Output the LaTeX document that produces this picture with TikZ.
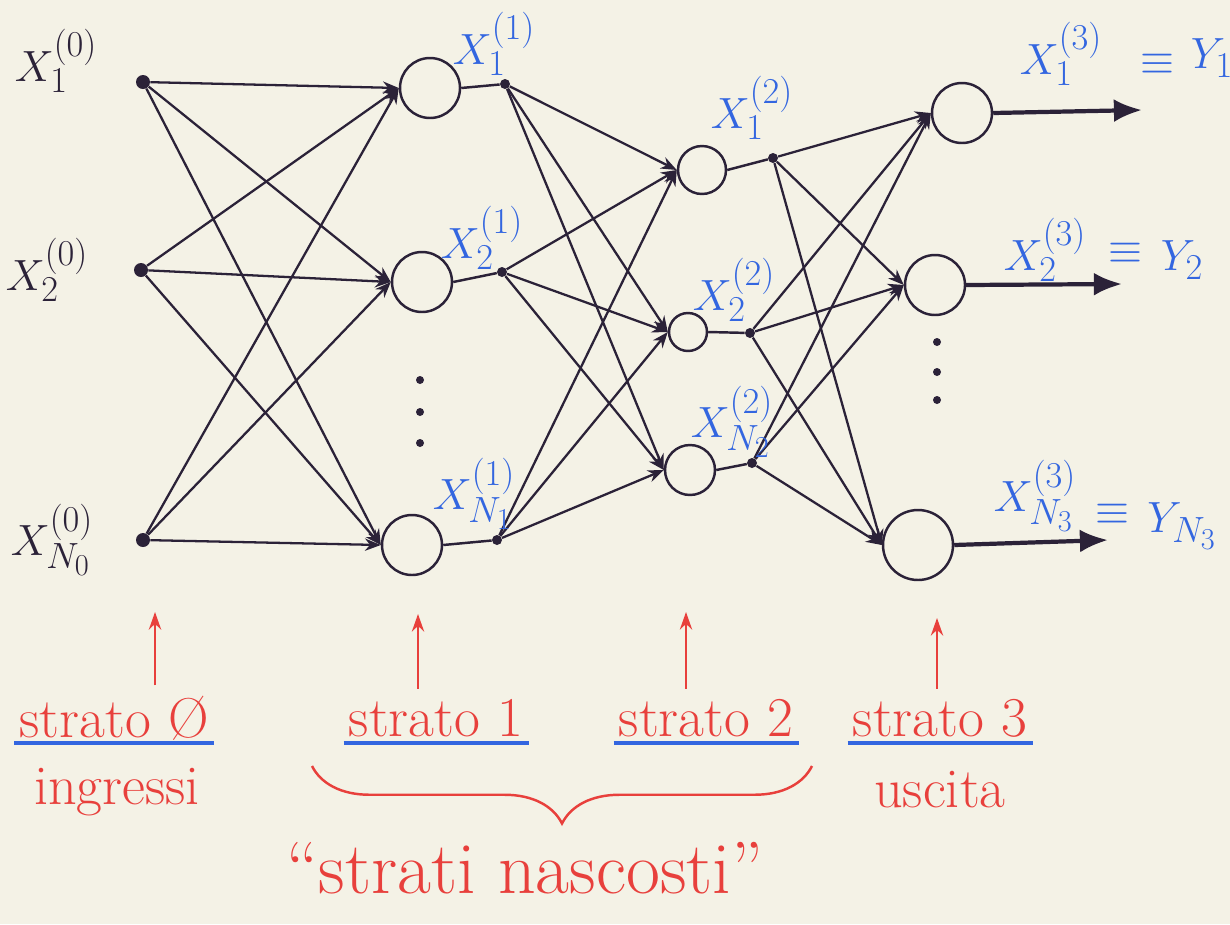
\documentclass[tikz,border=0pt]{standalone}
\usetikzlibrary{arrows.meta,decorations.pathreplacing}
\definecolor{paper}{HTML}{F4F2E6}
\definecolor{ink}{HTML}{2B2238}
\definecolor{pen}{HTML}{3366E0}
\definecolor{redpen}{HTML}{E8403C}
\tikzset{
  neuron/.style={circle,draw=ink,line width=1.4pt,inner sep=0pt},
  bigdot/.style={circle,fill=ink,inner sep=0pt,minimum size=0.28cm},
  smalldot/.style={circle,fill=ink,inner sep=0pt,minimum size=0.2cm},
  conn/.style={draw=ink,line width=1.3pt,-{Stealth[length=9pt,width=7pt]}},
  wire/.style={draw=ink,line width=1.4pt},
  outarrow/.style={draw=ink,line width=2.4pt,-{Latex[length=16pt,width=13pt]}},
  lbl/.style={text=pen,font=\Huge,inner sep=0pt},
  redtxt/.style={text=redpen,font=\fontsize{32}{36}\selectfont,inner sep=0pt},
  redarrow/.style={draw=redpen,line width=1.2pt,-{Stealth[length=10pt,width=7pt]}},
  underline/.style={draw=pen,line width=2.2pt},
  ellip/.style={circle,fill=ink,inner sep=0pt,minimum size=0.16cm}
}
\begin{document}
\begin{tikzpicture}[x=0.02cm,y=-0.02cm]
\useasboundingbox[fill=paper] (0,0) rectangle (1230,924);

% layer 0 inputs
\node[bigdot] (i1) at (143,82) {};
\node[bigdot] (i2) at (141,270) {};
\node[bigdot] (i3) at (143,540) {};

% layer 1 neurons
\node[neuron,minimum size=1.2cm] (a1) at (430,88) {};
\node[neuron,minimum size=1.2cm] (a2) at (422,282) {};
\node[neuron,minimum size=1.2cm] (a3) at (412,545) {};
\node[smalldot] (o1) at (505,84) {};
\node[smalldot] (o2) at (502,272) {};
\node[smalldot] (o3) at (497,540) {};

% layer 2 neurons
\node[neuron,minimum size=0.96cm] (b1) at (702,170) {};
\node[neuron,minimum size=0.76cm] (b2) at (688,332) {};
\node[neuron,minimum size=1.0cm] (b3) at (690,470) {};
\node[smalldot] (p1) at (773,158) {};
\node[smalldot] (p2) at (750,333) {};
\node[smalldot] (p3) at (752,463) {};

% layer 3 neurons
\node[neuron,minimum size=1.2cm] (c1) at (962,113) {};
\node[neuron,minimum size=1.2cm] (c2) at (935,285) {};
\node[neuron,minimum size=1.4cm] (c3) at (918,545) {};
\coordinate (y1) at (1142,110);
\coordinate (y2) at (1122,284);
\coordinate (y3) at (1108,540);

% ellipsis dots
\node[ellip] (d1) at (420,380) {};
\node[ellip] (d2) at (420,412) {};
\node[ellip] (d3) at (420,443) {};
\node[ellip] (e1) at (937,342) {};
\node[ellip] (e2) at (937,372) {};
\node[ellip] (e3) at (937,400) {};

% connections
\foreach \s in {i1,i2,i3}{\foreach \t in {a1,a2,a3}{\draw[conn] (\s) -- (\t.west);}}
\foreach \s in {o1,o2,o3}{\foreach \t in {b1,b2,b3}{\draw[conn] (\s) -- (\t.west);}}
\foreach \s in {p1,p2,p3}{\foreach \t in {c1,c2,c3}{\draw[conn] (\s) -- (\t.west);}}
\draw[wire] (a1.east) -- (o1);
\draw[wire] (a2.east) -- (o2);
\draw[wire] (a3.east) -- (o3);
\draw[wire] (b1.east) -- (p1);
\draw[wire] (b2.east) -- (p2);
\draw[wire] (b3.east) -- (p3);
\draw[outarrow] (c1.east) -- (y1);
\draw[outarrow] (c2.east) -- (y2);
\draw[outarrow] (c3.east) -- (y3);

% labels
\node[lbl,text=ink] (l01) at (56,61) {$X_1^{(0)}$};
\node[lbl,text=ink] (l02) at (47,270) {$X_2^{(0)}$};
\node[lbl,text=ink] (l03) at (52,540) {$X_{N_0}^{(0)}$};
\node[lbl] (l11) at (494,44) {$X_1^{(1)}$};
\node[lbl] (l12) at (482,238) {$X_2^{(1)}$};
\node[lbl] (l13) at (474,494) {$X_{N_1}^{(1)}$};
\node[lbl] (l21) at (752,108) {$X_1^{(2)}$};
\node[lbl] (l22) at (734,290) {$X_2^{(2)}$};
\node[lbl] (l23) at (732,422) {$X_{N_2}^{(2)}$};
\node[lbl] (l31) at (1061,54) {$X_1^{(3)}$};
\node[lbl] (q1) at (1157,64) {$\equiv$};
\node[lbl] (r1) at (1212,58) {$Y_1$};
\node[lbl] (l32) at (1045,250) {$X_2^{(3)}$};
\node[lbl] (q2) at (1125,253) {$\equiv$};
\node[lbl] (r2) at (1182,260) {$Y_2$};
\node[lbl] (l33) at (1035,496) {$X_{N_3}^{(3)}$};
\node[lbl] (q3) at (1112,514) {$\equiv$};
\node[lbl] (r3) at (1182,526) {$Y_{N_3}$};

% bottom annotations
\coordinate (u) at (0,743);
\node[redtxt] (s0) at (114,718) {strato \O};
\node[redtxt] (s1) at (436,718) {strato 1};
\node[redtxt] (s2) at (706,718) {strato 2};
\node[redtxt] (s3) at (940,718) {strato 3};
\coordinate (t0) at (155,612);
\coordinate (t1) at (418,614);
\coordinate (t2) at (686,612);
\coordinate (t3) at (937,618);
\draw[redarrow] (s0.north -| t0) ++(0,-10) -- (t0);
\draw[redarrow] (s1.north -| t1) ++(0,-10) -- (t1);
\draw[redarrow] (s2.north -| t2) ++(0,-10) -- (t2);
\draw[redarrow] (s3.north -| t3) ++(0,-10) -- (t3);
\draw[underline] ([xshift=-0.1cm]s0.west |- u) -- ([xshift=0.1cm]s0.east |- u);
\draw[underline] ([xshift=-0.1cm]s1.west |- u) -- ([xshift=0.1cm]s1.east |- u);
\draw[underline] ([xshift=-0.1cm]s2.west |- u) -- ([xshift=0.1cm]s2.east |- u);
\draw[underline] ([xshift=-0.1cm]s3.west |- u) -- ([xshift=0.1cm]s3.east |- u);
\node[redtxt] (ing) at (117,792) {ingressi};
\node[redtxt] (usc) at (940,790) {uscita};
\coordinate (bl) at (312,766);
\coordinate (br) at (812,766);
\draw[draw=redpen,line width=1.4pt,decorate,decoration={brace,mirror,amplitude=1.15cm}] (bl) -- (br);
\node[redtxt,font=\fontsize{42}{46}\selectfont] (hid) at (525,868) {``strati nascosti''};
\end{tikzpicture}
\end{document}
